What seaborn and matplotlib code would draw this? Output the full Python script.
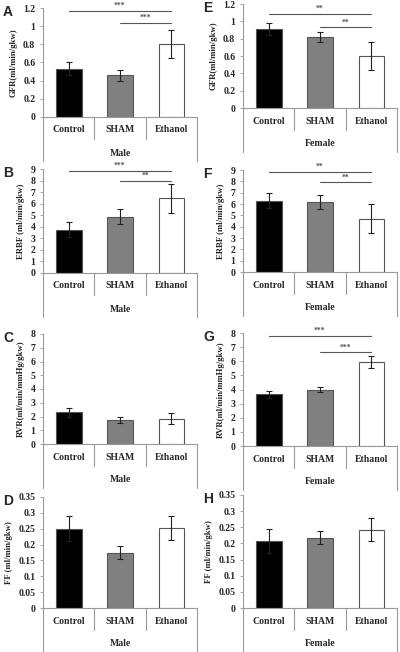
import matplotlib
matplotlib.use('Agg')
import matplotlib.pyplot as plt
import matplotlib.transforms as mtransforms
import numpy as np
import pandas as pd
import seaborn as sns

groups = ['Control', 'SHAM', 'Ethanol']

gfr_male = [0.53, 0.46, 0.80]
gfr_male_err = [0.07, 0.06, 0.155]
gfr_female = [0.91, 0.82, 0.60]
gfr_female_err = [0.07, 0.06, 0.16]

erbf_male = [3.75, 4.85, 6.45]
erbf_male_err = [0.65, 0.65, 1.28]
erbf_female = [6.3, 6.2, 4.7]
erbf_female_err = [0.65, 0.6, 1.3]

rvr_male = [2.3, 1.75, 1.85]
rvr_male_err = [0.3, 0.2, 0.43]
rvr_female = [3.65, 3.98, 5.95]
rvr_female_err = [0.25, 0.18, 0.42]

ff_male = [0.25, 0.175, 0.253]
ff_male_err = [0.04, 0.019, 0.038]
ff_female = [0.208, 0.218, 0.243]
ff_female_err = [0.037, 0.019, 0.037]

sns.set_style('white')
plt.rcParams['font.family'] = ['Liberation Serif', 'DejaVu Serif']
plt.rcParams['font.weight'] = 'bold'

bar_colors = {'Control': '#000000', 'SHAM': '#808080', 'Ethanol': '#ffffff'}
axis_gray = '#9a9a9a'

# letter, values, errors, sex, ylabel, ymax, ystep, significance lines, column, (top px, bottom px)
panels = [
    ('A', gfr_male, gfr_male_err, 'Male', 'GFR(ml/min/gkw)', 1.2, 0.2,
     [(0, 2, 1.17, '***'), (1, 2, 1.04, '***')], 0, (8, 117)),
    ('B', erbf_male, erbf_male_err, 'Male', 'ERBF (ml/min/gkw)', 9, 1,
     [(0, 2, 8.85, '***'), (1, 2, 8.0, '**')], 0, (169, 273)),
    ('C', rvr_male, rvr_male_err, 'Male', 'RVR(ml/min/mmHg/gkw)', 8, 1,
     [], 0, (334, 444)),
    ('D', ff_male, ff_male_err, 'Male', 'FF (ml/min/gkw)', 0.35, 0.05,
     [], 0, (497, 608)),
    ('E', gfr_female, gfr_female_err, 'Female', 'GFR(ml/min/gkw)', 1.2, 0.2,
     [(0, 2, 1.09, '**'), (1, 2, 0.93, '**')], 1, (4, 108)),
    ('F', erbf_female, erbf_female_err, 'Female', 'ERBF (ml/min/gkw)', 9, 1,
     [(0, 2, 8.86, '**'), (1, 2, 7.92, '**')], 1, (170, 272)),
    ('G', rvr_female, rvr_female_err, 'Female', 'RVR(ml/min/mmHg/gkw)', 8, 1,
     [(0, 2, 7.8, '***'), (1, 2, 6.65, '***')], 1, (333, 446)),
    ('H', ff_female, ff_female_err, 'Female', 'FF (ml/min/gkw)', 0.35, 0.05,
     [], 1, (495, 608)),
]

W, H = 400, 652
fig = plt.figure(figsize=(W / 100, H / 100), dpi=100)

for letter, vals, errs, sex, ylab, ymax, ystep, sig, col, (top, bot) in panels:
    x0 = 43 if col == 0 else 243
    ax = fig.add_axes([x0 / W, 1 - bot / H, 154 / W, (bot - top) / H])
    df = pd.DataFrame({'group': groups, 'value': vals})
    sns.barplot(data=df, x='group', y='value', hue='group', order=groups,
                palette=bar_colors, width=0.5, errorbar=None, legend=False,
                edgecolor='#555555', linewidth=0.8, ax=ax)
    ax.errorbar(np.arange(3), vals, yerr=errs, fmt='none', ecolor='#222222',
                elinewidth=0.8, capsize=2.2, capthick=0.8)
    ax.set_xlim(-0.5, 2.5)
    ax.set_ylim(0, ymax)
    ticks = np.arange(0, ymax + ystep / 2, ystep)
    ax.set_yticks(ticks)
    ax.set_yticklabels(['%g' % round(t, 2) for t in ticks], fontsize=7, fontweight='bold')
    ax.tick_params(axis='y', length=2.5, width=0.6, color=axis_gray, pad=3, left=True)
    ax.set_xticks([])
    ax.set_xlabel('')
    ax.set_ylabel(ylab, fontsize=6.3, fontweight='bold', labelpad=4)
    for s in ['top', 'right']:
        ax.spines[s].set_visible(False)
    for s in ['left', 'bottom']:
        ax.spines[s].set_color(axis_gray)
        ax.spines[s].set_linewidth(0.8)

    # multi-level category axis below the plot
    trans = mtransforms.blended_transform_factory(ax.transData, ax.transAxes)
    h_px = bot - top
    for xs in [0.5, 1.5]:
        ax.plot([xs, xs], [0, -22 / h_px], color=axis_gray, lw=0.8,
                transform=trans, clip_on=False)
    for xs in [-0.5, 2.5]:
        ax.plot([xs, xs], [0, -44 / h_px], color=axis_gray, lw=0.8,
                transform=trans, clip_on=False)
    for i, g in enumerate(groups):
        ax.text(i, -13 / h_px, g, transform=trans, ha='center', va='center',
                fontsize=7, fontweight='bold')
    ax.text(1, -36 / h_px, sex, transform=trans, ha='center', va='center',
            fontsize=7, fontweight='bold')

    # significance lines
    for a, b, yv, stars in sig:
        ax.plot([a, b], [yv, yv], color='#555555', lw=0.8, clip_on=False)
        ax.annotate(stars, xy=((a + b) / 2, yv), xytext=(0, 0.5),
                    textcoords='offset points', ha='center', va='bottom',
                    fontsize=5.5, color='#555555', annotation_clip=False)

    # panel letter
    fig.text((3 if col == 0 else 203) / W, 1 - (top - 3) / H, letter,
             ha='left', va='top', fontsize=10, fontweight='bold',
             family=['Liberation Sans', 'DejaVu Sans'])

fig.savefig('out.png', dpi=100, facecolor='white')
